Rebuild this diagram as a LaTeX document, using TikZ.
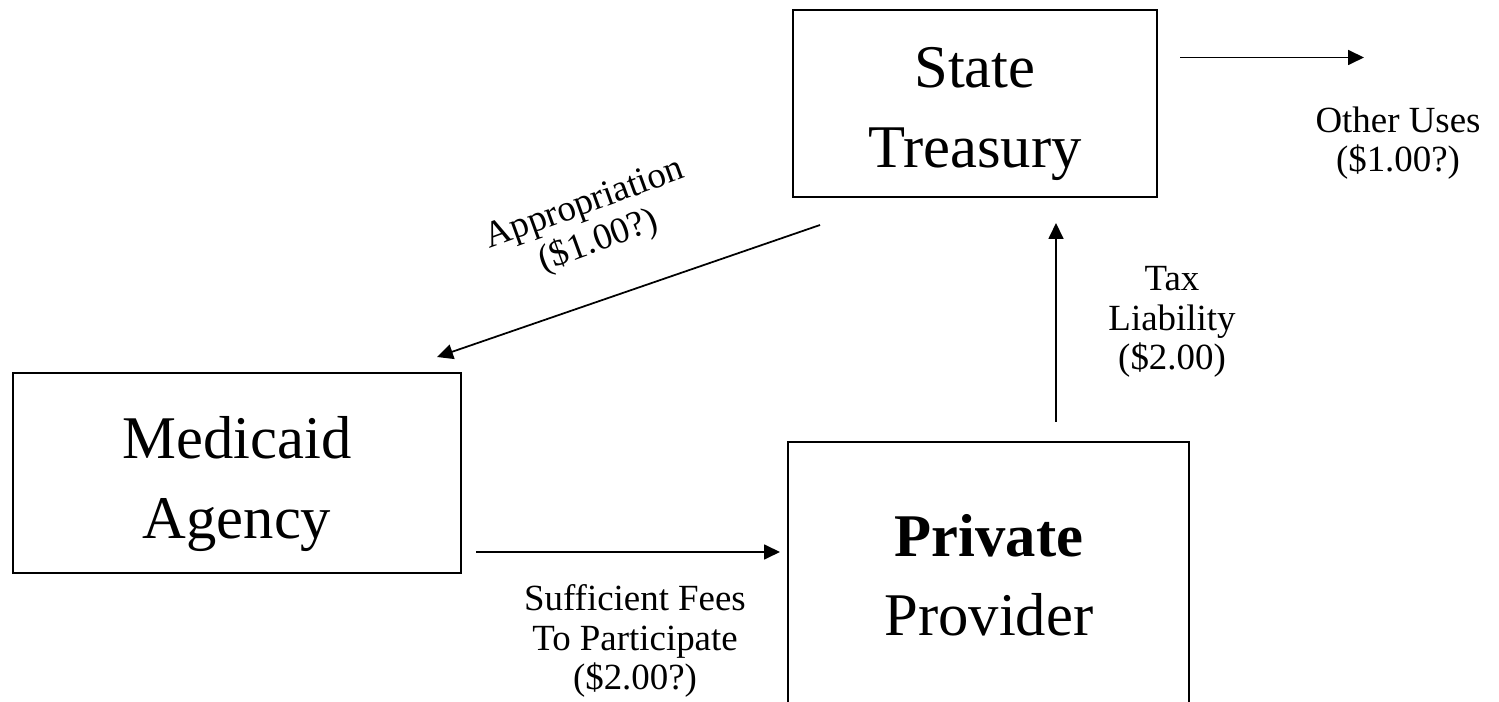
\documentclass[tikz,border=0pt]{standalone}
\usepackage{fontspec}
\setmainfont{Liberation Serif}
\usetikzlibrary{arrows.meta,positioning}
\tikzset{
  entity/.style={draw=black,line width=1pt,inner sep=0pt},
  entitytext/.style={align=center,inner sep=0pt,font=\fontsize{34.5}{45}\selectfont},
  note/.style={align=center,inner sep=0pt,font=\fontsize{21}{22.5}\selectfont},
  flow/.style={-{Triangle[length=3.2mm,width=3mm]},line width=1pt},
}

\begin{document}
\begin{tikzpicture}[x=0.02cm,y=-0.02cm]
    \useasboundingbox (0,0) rectangle (1499,702);
    \clip (0,0) rectangle (1499,702);
    \node[entity,minimum width=7.28cm,minimum height=3.74cm] (treasury) at (975,103.5) {};
    \node[entity,minimum width=8.96cm,minimum height=4cm] (medicaid) at (237,473) {};
    \node[entity,minimum width=8.02cm,minimum height=5.44cm] (provider) at (988.5,578) {};
    \node[entitytext] (treasurytxt) at (975,114) {State\\Treasury};
    \node[entitytext] (medicaidtxt) at (237,484) {Medicaid\\Agency};
    \node[entitytext] (providertxt) at (989,575) {\textbf{Private}\\Provider};
    % arrow ends stay clear of the boxes
    \coordinate (outA) at (1180,57.5); \coordinate (outB) at (1364,57.5);
    \coordinate (appA) at (820,225); \coordinate (appB) at (437,357);
    \coordinate (taxA) at (1056,422); \coordinate (taxB) at (1056,223);
    \coordinate (feeA) at (476,552); \coordinate (feeB) at (780,552);
    \draw[flow] (outA)--(outB); \draw[flow] (appA)--(appB);
    \draw[flow] (taxA)--(taxB); \draw[flow] (feeA)--(feeB);
    \node[note] (other) at (1398,143) {Other Uses\\(\$1.00?)};
    \node[note,rotate=20] (approp) at (592,224) {Appropriation\\(\$1.00?)};
    \node[note] (tax) at (1172,322) {Tax\\Liability\\(\$2.00)};
    \node[note] (fees) at (635,641) {Sufficient Fees\\To Participate\\(\$2.00?)};
\end{tikzpicture}
\end{document}
